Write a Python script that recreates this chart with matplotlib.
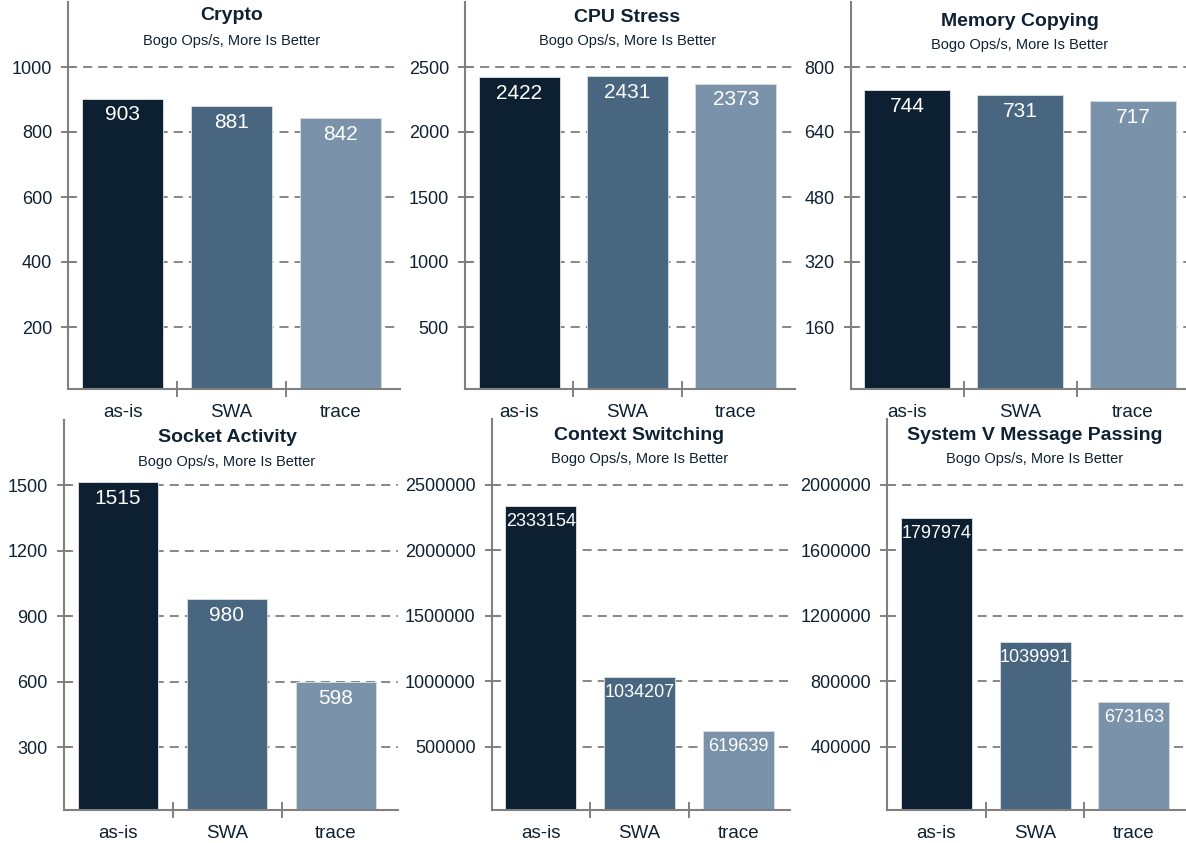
import numpy as np
import matplotlib
matplotlib.use("Agg")
import matplotlib.pyplot as plt
from matplotlib.transforms import blended_transform_factory

plt.rcParams["font.family"] = ["Liberation Sans", "DejaVu Sans"]

# ---- data -------------------------------------------------------------
categories = ["as-is", "SWA", "trace"]
titles = ["Crypto", "CPU Stress", "Memory Copying",
          "Socket Activity", "Context Switching", "System V Message Passing"]
subtitle = "Bogo Ops/s, More Is Better"

crypto = [903, 881, 842]
cpu_stress = [2422, 2431, 2373]
memory_copying = [744, 731, 717]
socket_activity = [1515, 980, 598]
context_switching = [2333154, 1034207, 619639]
sysv_message_passing = [1797974, 1039991, 673163]

tick_steps = [200, 500, 160, 300, 500000, 400000]

series = [crypto, cpu_stress, memory_copying,
          socket_activity, context_switching, sysv_message_passing]

# ---- styling ------------------------------------------------------------
bar_colors = ["#0d2031", "#48667f", "#7a93aa"]
text_dark = "#0f2233"
axis_gray = "#808080"
grid_gray = "#8a8a8a"

W, H = 1186, 843
fig = plt.figure(figsize=(W / 100, H / 100), dpi=100)
fig.patch.set_facecolor("white")

# panel boxes in pixels: left, right, top, bottom, px per category,
# bar width, title baseline, subtitle baseline, zero offset below spine
panels = [
    (68.0, 400, 2, 389, 109.0, 0.75, 20.5, 44.5, 3.0),
    (465.0, 795, 2, 389, 108.3, 0.75, 22.5, 45.5, 3.0),
    (850.5, 1186, 2, 389, 113.0, 0.76, 26.0, 48.5, 3.0),
    (63.5, 398, 420, 810, 109.0, 0.74, 441.5, 465.5, 2.5),
    (491.5, 790, 419, 810, 98.7, 0.72, 440.0, 463.5, 2.5),
    (887.0, 1186, 419, 810, 98.7, 0.72, 440.0, 463.5, 2.5),
]

for values, step, title, box in zip(series, tick_steps, titles, panels):
    left, right, top, bottom, ppc, bw, ty, sy, zoff = box
    ax = fig.add_axes([left / W, 1 - bottom / H,
                       (right - left) / W, (bottom - top) / H])
    ax.set_facecolor("none")

    x = np.arange(len(categories))
    ax.bar(x, values, width=bw, color=bar_colors,
           edgecolor="#d5dade", linewidth=0.7, zorder=2)

    # axis limits: three category slots, six tick steps of height
    ax.set_xlim(-0.5, -0.5 + (right - left) / ppc)
    px_per_unit = (bottom + zoff - top) / (6 * step)
    ax.set_ylim(zoff / px_per_unit, 6 * step)

    # y ticks and dashed grid
    yt = step * np.arange(1, 6)
    ax.set_yticks(yt, labels=[f"{int(v)}" for v in yt])
    ax.tick_params(axis="y", direction="inout", length=10, width=1.4,
                   color=axis_gray, labelsize=13, labelcolor=text_dark,
                   pad=6.5)
    ax.yaxis.grid(True, color=grid_gray, linewidth=1.45,
                  linestyle=(0, (4.5, 3.0)))
    ax.set_axisbelow(True)

    # x ticks at slot boundaries, labels at slot centres
    ax.set_xticks([0.5, 1.5], labels=["", ""])
    ax.set_xticks(x, labels=categories, minor=True)
    ax.tick_params(axis="x", which="major", direction="inout", length=12,
                   width=1.4, color=axis_gray)
    ax.tick_params(axis="x", which="minor", length=0, labelsize=13.5,
                   labelcolor=text_dark, pad=10.5)

    for s in ("top", "right"):
        ax.spines[s].set_visible(False)
    for s in ("left", "bottom"):
        ax.spines[s].set_color(axis_gray)
        ax.spines[s].set_linewidth(1.5)

    # value labels inside the bars
    for xi, v in zip(x, values):
        label = f"{v}"
        fs = 15 if len(label) <= 4 else 13
        ax.annotate(label, xy=(xi, v), xytext=(0, -5),
                    textcoords="offset points", ha="center", va="top",
                    color="white", fontsize=fs, zorder=3)

    # title and subtitle centred over the middle category
    tr = blended_transform_factory(ax.transData, fig.transFigure)
    ax.text(1.0, 1 - ty / H, title, transform=tr, ha="center",
            va="baseline", fontsize=14, fontweight="bold", color=text_dark)
    ax.text(1.0, 1 - sy / H, subtitle, transform=tr, ha="center",
            va="baseline", fontsize=10.5, color=text_dark)

fig.savefig("out.png", dpi=100, facecolor="white")
